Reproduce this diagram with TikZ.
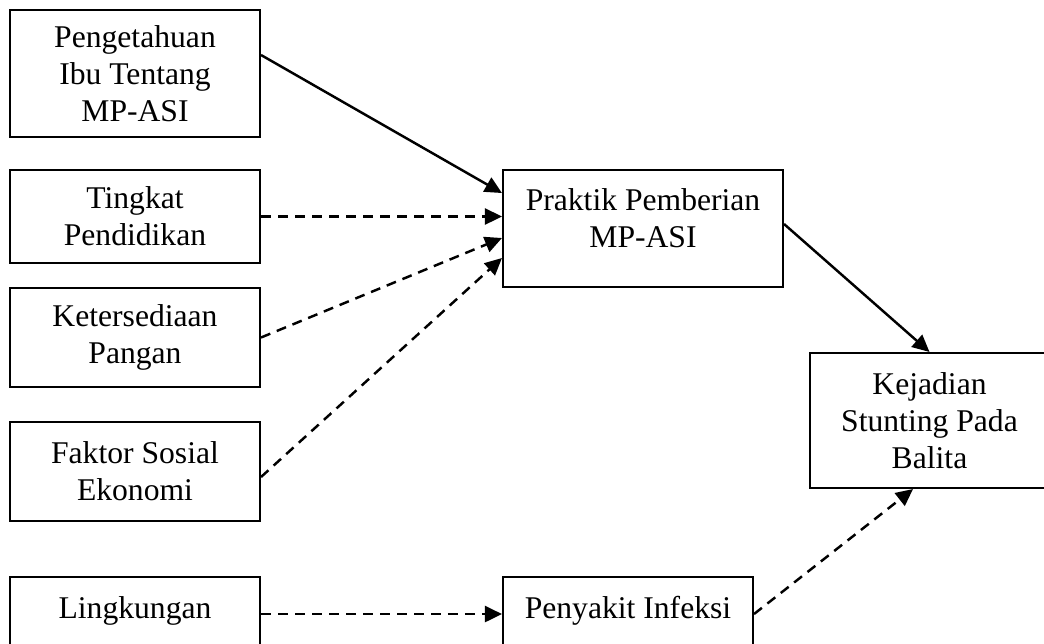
\documentclass[tikz,border=0pt]{standalone}
\usepackage{fontspec}
\setmainfont{Liberation Serif}
\usetikzlibrary{arrows.meta}

\begin{document}
\begin{tikzpicture}[x=0.02cm, y=-0.02cm,
	box/.style={draw, line width=1.2pt, inner sep=0pt, align=center, minimum width=5cm, font=\fontsize{18}{21}\selectfont},
	solidarrow/.style={-{Triangle[length=0.34cm, width=0.32cm]}, line width=1.4pt},
	dasharrow/.style={solidarrow, dash pattern=on 0.2cm off 0.14cm}]

	\clip (0, 0) rectangle (1044, 643);

	\node (peng) [box, minimum height=2.54cm] at (135, 73.5) {Pengetahuan\\Ibu Tentang\\MP-ASI};
	\node (ting) [box, minimum height=1.86cm] at (135, 216.5) {Tingkat\\Pendidikan};
	\node (kete) [box, minimum height=1.98cm] at (135, 337.5) {Ketersediaan\\Pangan};
	\node (fakt) [box, minimum height=1.98cm] at (135, 471.5) {Faktor Sosial\\Ekonomi};
	\node (ling) [box, anchor=north, text height=0.82cm, text depth=1.6cm] at (135, 576) {Lingkungan};

	\node (prak) [box, minimum width=5.6cm, minimum height=2.34cm, text depth=0.42cm] at (643, 228.5) {Praktik Pemberian\\MP-ASI};
	\node (peny) [box, anchor=north, text height=0.82cm, text depth=1.6cm] at (628, 576) {Penyakit Infeksi};

	\node (keja) [box, minimum width=4.78cm, minimum height=2.7cm] at (929.5, 420.5) {Kejadian\\Stunting Pada\\Balita};

	\path
	([yshift=0.37cm]peng.east) edge[solidarrow] ([yshift=0.71cm]prak.west)
	(ting.east) edge[dasharrow] (prak.west |- ting.east)
	(kete.east) edge[dasharrow] ([yshift=-0.19cm]prak.west)
	([yshift=-0.11cm]fakt.east) edge[dasharrow] ([yshift=-0.59cm]prak.west)
	([yshift=0.09cm]prak.east) edge[solidarrow] (keja.north)
	(ling.mid east) edge[dasharrow] (peny.mid west)
	(peny.mid east) edge[dasharrow] ([xshift=-0.33cm]keja.south);

\end{tikzpicture}
\end{document}
